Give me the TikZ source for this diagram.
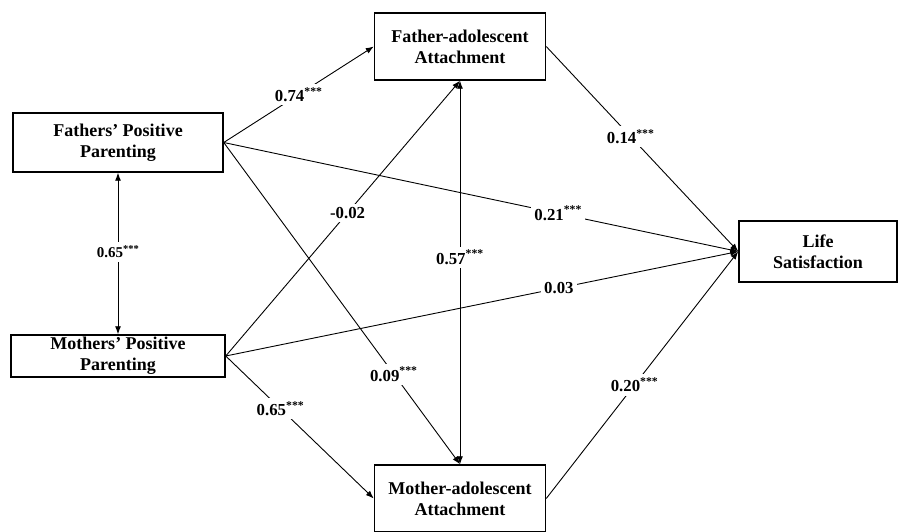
\documentclass[tikz,border=0pt]{standalone}
\usepackage{fontspec}
\setmainfont{Liberation Serif}
\usetikzlibrary{arrows.meta}
\newcommand{\sig}{\textsuperscript{***}}

\begin{document}
\begin{tikzpicture}[x=1pt,y=-1pt,>={Latex[length=8pt,width=6pt]},
  box/.style={draw,line width=1.5pt,fill=white,align=center,inner sep=0pt,font=\fontsize{18}{21}\selectfont\bfseries},
  link/.style={->,line width=0.9pt},
  lbl/.style={fill=white,inner sep=3.5pt,font=\fontsize{16.8}{18}\selectfont\bfseries}]
  \useasboundingbox (0,0) rectangle (898,532);
  \clip (0,0) rectangle (898,532);
  % boxes
  \node[box,minimum width=210pt,minimum height=59pt] (fpp) at (118,142.5) {Fathers’ Positive\\Parenting};
  \node[box,minimum width=214pt,minimum height=42pt] (mpp) at (118,356) {Mothers’ Positive\\Parenting};
  \node[box,minimum width=171pt,minimum height=67pt] (fa) at (460,46.5) {Father-adolescent\\Attachment};
  \node[box,minimum width=171pt,minimum height=67pt] (ma) at (460,498.5) {Mother-adolescent\\Attachment};
  \node[box,minimum width=158pt,minimum height=61pt] (ls) at (818,251.5) {Life\\Satisfaction};
  % paths
  \draw[link] (fpp.east) -- node[lbl,pos=0.5] {0.74\sig} (fa.west);
  \draw[link] (fpp.east) -- node[lbl,pos=0.65] {0.21\sig} (ls.west);
  \draw[link] (fpp.east) -- node[lbl,pos=0.72] {0.09\sig} (ma.north);
  \draw[link] (mpp.east) -- node[lbl,pos=0.52] {-0.02} (fa.south);
  \draw[link] (mpp.east) -- node[lbl,pos=0.65] {0.03} (ls.west);
  \draw[link] (mpp.east) -- node[lbl,pos=0.37] {0.65\sig} (ma.west);
  \draw[link] (fa.east) -- node[lbl,pos=0.44] {0.14\sig} (ls.west);
  \draw[link] (ma.east) -- node[lbl,pos=0.46] {0.20\sig} (ls.west);
  % correlations
  \draw[link,<->] (fa.south) -- node[lbl,pos=0.46] {0.57\sig} (ma.north);
  \draw[link,<->] (fpp.south) -- node[lbl,pos=0.49,font=\fontsize{15}{16}\selectfont\bfseries] {0.65\sig} (mpp.north);
\end{tikzpicture}
\end{document}
